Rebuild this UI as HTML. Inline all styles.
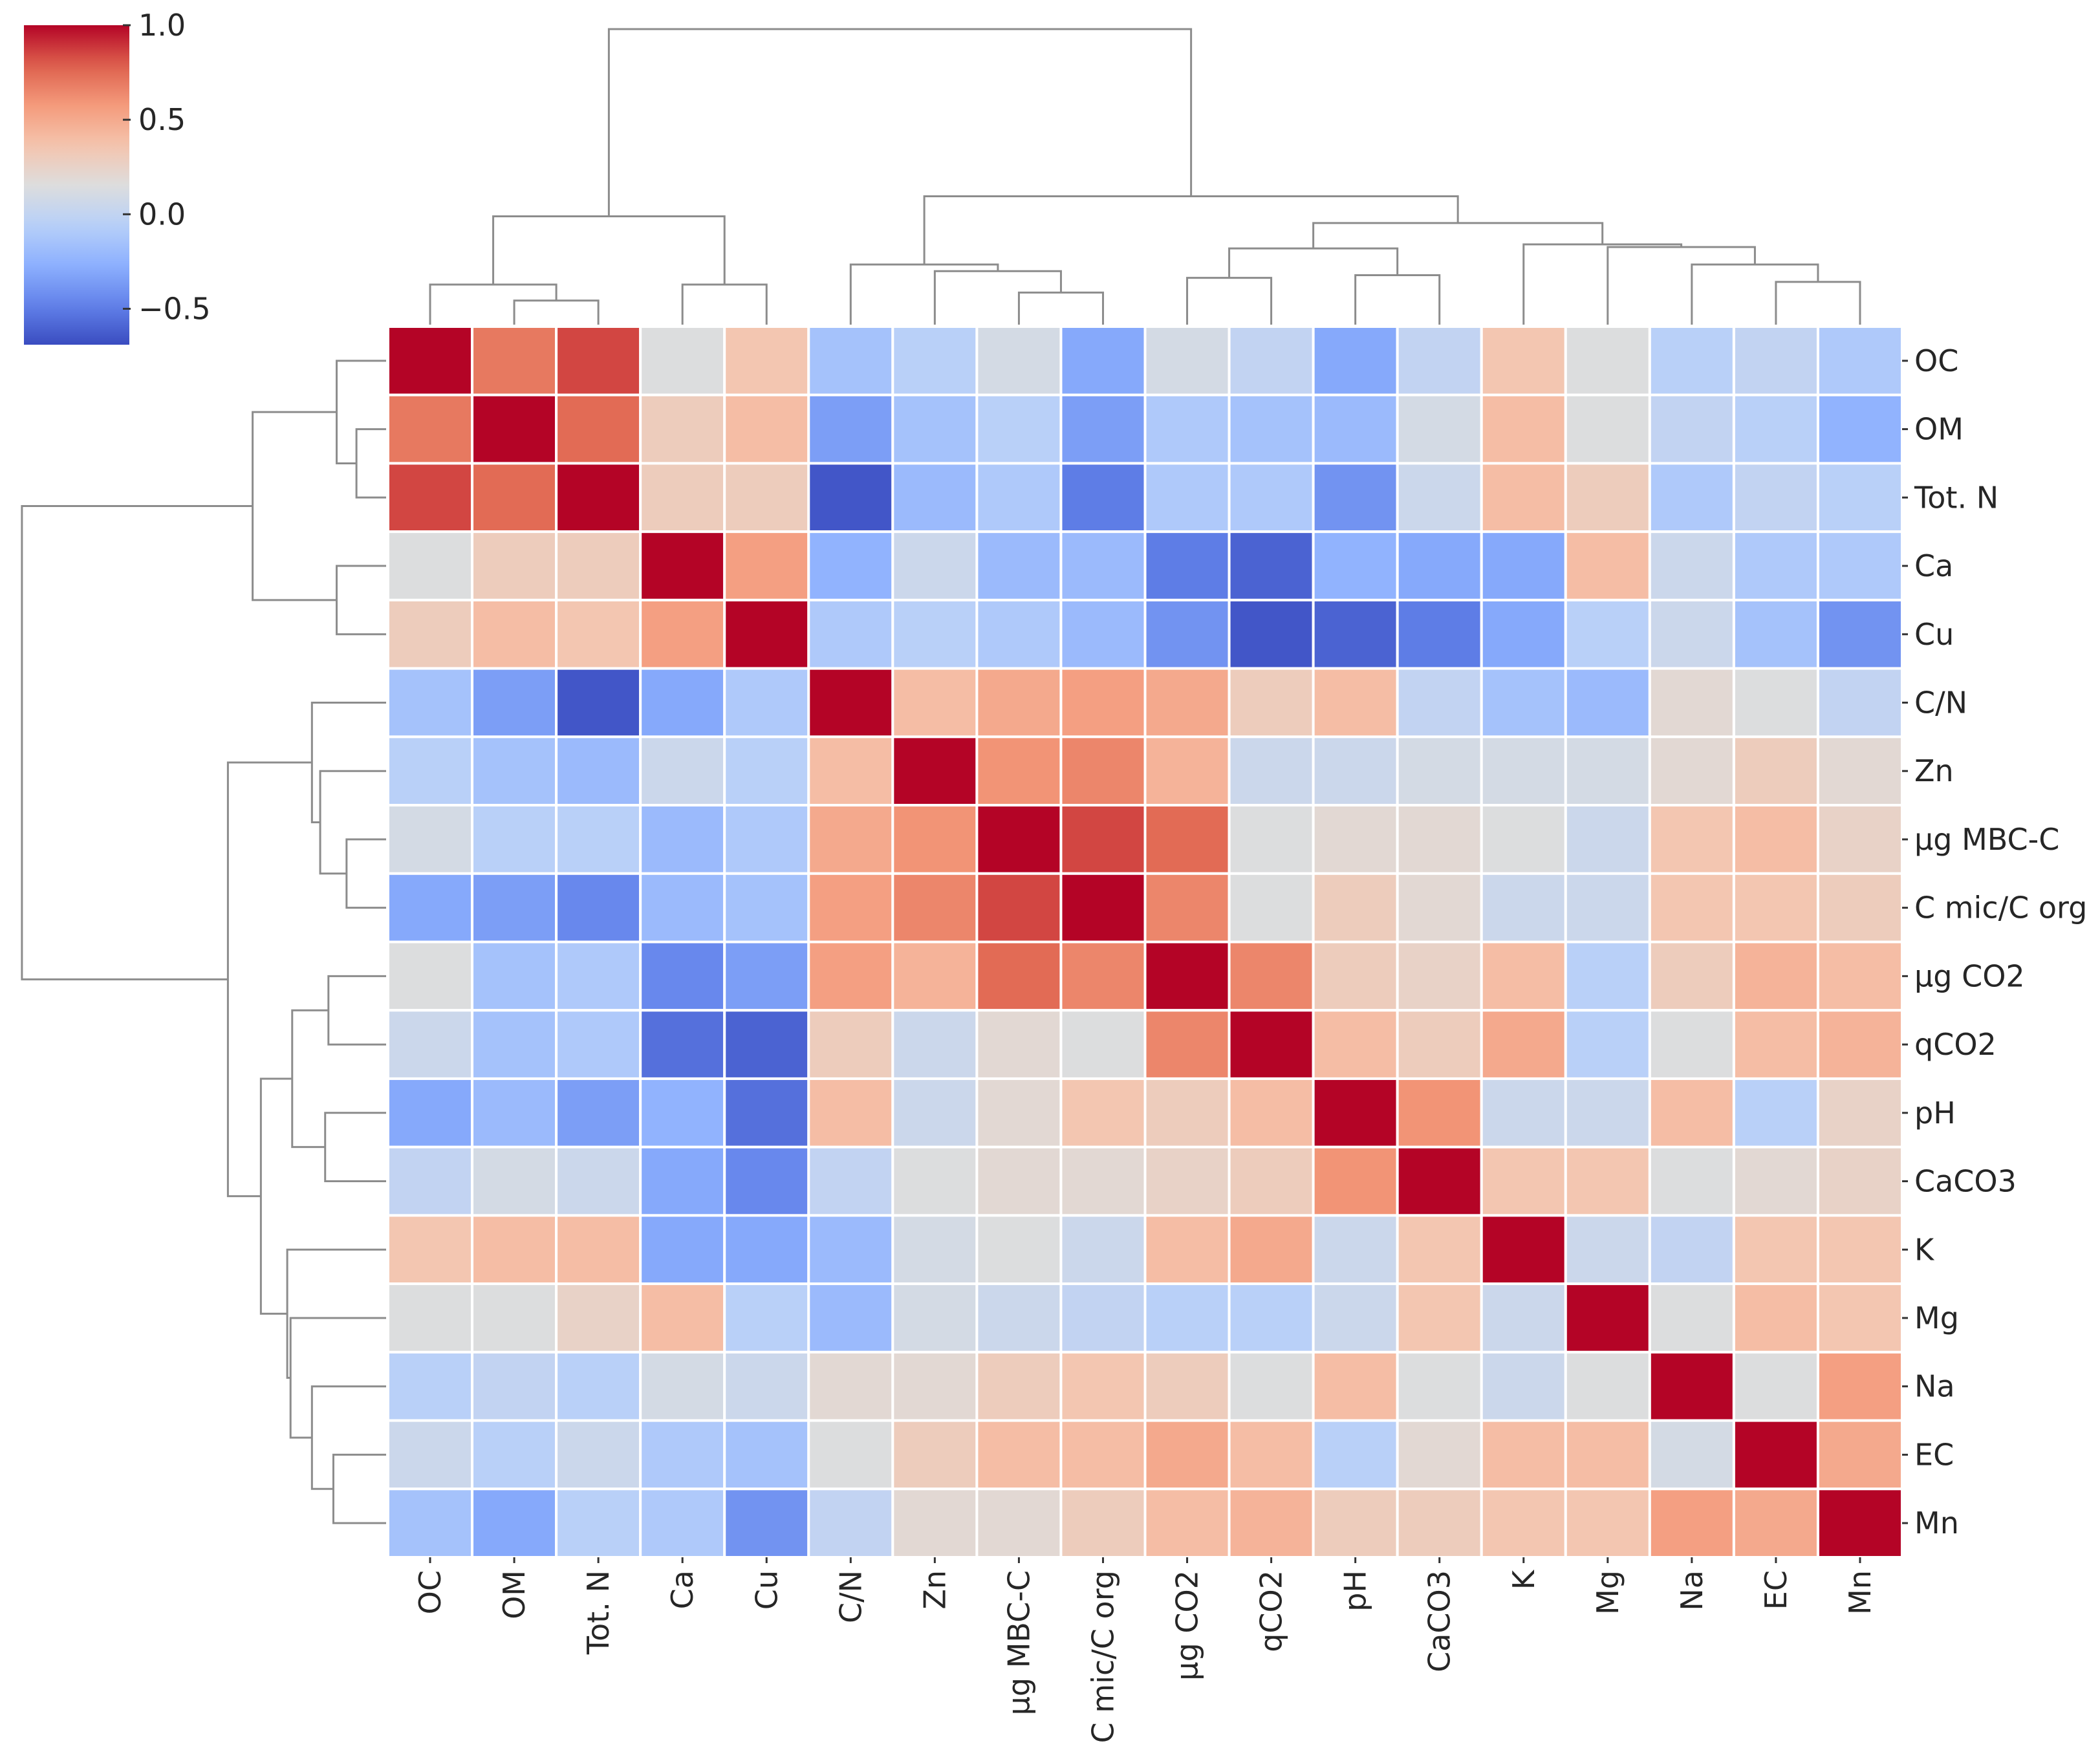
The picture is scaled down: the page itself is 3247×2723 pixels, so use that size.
<!DOCTYPE html>
<html><head><meta charset="utf-8"><style>
html,body{margin:0;padding:0;background:#fff;}
svg{display:block;font-family:"DejaVu Sans","Liberation Sans",sans-serif;}
</style></head><body>
<svg id="chart" width="3247" height="2723" viewBox="0 0 3247 2723" xmlns="http://www.w3.org/2000/svg">
<defs><linearGradient id="cbgrad" x1="0" y1="1" x2="0" y2="0"></linearGradient></defs>
<g id="colorbar"></g>
<g id="topdendro"></g>
<g id="leftdendro"></g>
<g id="heat"></g>
<g id="labels"></g>
</svg>
<script>
const labels = ["OC","OM","Tot. N","Ca","Cu","C/N","Zn","µg MBC-C","C mic/C org","µg CO2","qCO2","pH","CaCO3","K","Mg","Na","EC","Mn"];
const rowOC    = [1,.7,.85,.15,.35,-.15,-.05,.1,-.3,.1,0,-.3,0,.35,.15,-.05,0,-.1];
const rowOM    = [.7,1,.75,.3,.4,-.35,-.15,-.05,-.35,-.1,-.15,-.2,.1,.4,.15,0,-.05,-.25];
const rowTotN  = [.85,.75,1,.3,.3,-.65,-.2,-.1,-.5,-.1,-.1,-.4,.05,.4,.3,-.1,0,-.05];
const rowCa    = [.15,.3,.3,1,.55,-.25,.05,-.2,-.2,-.5,-.6,-.25,-.3,-.3,.4,.05,-.1,-.1];
const rowCu    = [.3,.4,.35,.55,1,-.1,-.05,-.1,-.2,-.4,-.65,-.6,-.5,-.3,-.05,.05,-.15,-.4];
const rowCN    = [-.15,-.35,-.65,-.3,-.1,1,.4,.5,.55,.5,.3,.4,0,-.15,-.2,.2,.15,0];
const rowZn    = [-.05,-.15,-.2,.05,-.05,.4,1,.6,.65,.45,.05,.05,.1,.1,.1,.2,.3,.2];
const rowMBC   = [.1,-.05,-.05,-.2,-.1,.5,.6,1,.85,.75,.15,.2,.2,.15,.05,.35,.4,.25];
const rowCmic  = [-.3,-.35,-.45,-.2,-.15,.55,.65,.85,1,.65,.15,.3,.2,.05,.05,.35,.35,.3];
const rowCO2   = [.15,-.15,-.1,-.45,-.35,.55,.45,.75,.65,1,.65,.3,.25,.4,-.05,.3,.45,.4];
const rowqCO2  = [.05,-.15,-.1,-.55,-.6,.3,.05,.2,.15,.65,1,.4,.3,.5,-.05,.15,.4,.45];
const rowpH    = [-.3,-.2,-.35,-.25,-.55,.4,.05,.2,.35,.3,.4,1,.6,.05,.05,.4,-.05,.25];
const rowCaCO3 = [0,.1,.05,-.3,-.45,0,.15,.2,.2,.25,.3,.6,1,.35,.35,.15,.2,.25];
const rowK     = [.35,.4,.4,-.3,-.3,-.2,.1,.15,.05,.4,.5,.05,.35,1,.05,0,.35,.35];
const rowMg    = [.15,.15,.25,.4,-.05,-.2,.1,.05,0,-.05,-.05,.05,.35,.05,1,.15,.4,.35];
const rowNa    = [-.05,0,-.05,.1,.05,.2,.2,.3,.35,.3,.15,.4,.15,.05,.15,1,.15,.55];
const rowEC    = [.05,-.05,.05,-.1,-.15,.15,.3,.4,.4,.5,.4,-.05,.2,.4,.4,.1,1,.5];
const rowMn    = [-.15,-.3,-.05,-.1,-.4,0,.2,.2,.3,.4,.45,.3,.3,.35,.35,.55,.5,1];
const matrix = [rowOC,rowOM,rowTotN,rowCa,rowCu,rowCN,rowZn,rowMBC,rowCmic,rowCO2,rowqCO2,rowpH,rowCaCO3,rowK,rowMg,rowNa,rowEC,rowMn];
const cbTicks = [1.0, 0.5, 0.0, -0.5];
const cbTickLabels = ["1.0","0.5","0.0","\u22120.5"];
// dendrogram: [left, right, mergeHeight]
const treeA = [[0,[1,2,18],30],[3,4,30],81];
const treeB1 = [5,[6,[7,8,24],40],45];
const treeB2 = [[[9,10,35],[11,12,37],57],[13,[14,[15,[16,17,32],45],58],60],76];
const tree = [treeA,[treeB1,treeB2,96],221];

const NS="http://www.w3.org/2000/svg";
const vmin=-0.69, vmax=1.0;
const HX=600, HY=505, HW=2341, HH=1903, n=labels.length;
const cw=HW/n, ch=HH/n;
const xOf=i=>HX+i*cw, yOf=i=>HY+i*ch;
const cmStops=[[0,[58,76,192]],[0.125,[98,130,234]],[0.25,[141,176,254]],[0.375,[184,208,249]],[0.5,[221,221,221]],[0.625,[245,196,173]],[0.75,[244,154,123]],[0.875,[222,97,77]],[1,[180,4,38]]];
function cmap(t){t=Math.max(0,Math.min(1,t));for(let k=1;k<cmStops.length;k++){if(t<=cmStops[k][0]){const a=cmStops[k-1],b=cmStops[k];const f=(t-a[0])/(b[0]-a[0]);const c=a[1].map((v,j)=>Math.round(v+(b[1][j]-v)*f));return `rgb(${c[0]},${c[1]},${c[2]})`;}}return "rgb(180,4,38)";}
const colorOf=v=>cmap((v-vmin)/(vmax-vmin));
function mk(tag,attrs,parent){const e=document.createElementNS(NS,tag);for(const k in attrs)e.setAttribute(k,attrs[k]);parent.appendChild(e);return e;}

// heatmap
const heatG=document.getElementById('heat');
for(let r=0;r<n;r++)for(let c=0;c<n;c++){
  const rect=mk('rect',{x:xOf(c),y:yOf(r),width:cw,height:ch,fill:colorOf(matrix[r][c]),stroke:'#fff','stroke-width':4},heatG);
  
  
}
// labels
const labG=document.getElementById('labels');
for(let i=0;i<n;i++){
  const cy=yOf(i)+ch/2, cx=xOf(i)+cw/2;
  mk('line',{x1:HX+HW,x2:HX+HW+9,y1:cy,y2:cy,stroke:'#333','stroke-width':3},labG);
  const t=mk('text',{x:2960,y:cy,'font-size':46,fill:'#262626','dominant-baseline':'central'},labG);
  t.textContent=labels[i];
  
  
  mk('line',{x1:cx,x2:cx,y1:HY+HH,y2:HY+HH+9,stroke:'#333','stroke-width':3},labG);
  const b=mk('text',{x:0,y:0,'font-size':46,fill:'#262626','text-anchor':'end','dominant-baseline':'central',transform:`translate(${cx},2428) rotate(-90)`},labG);
  b.textContent=labels[i];
  
  
}
// dendrograms
const topG=document.getElementById('topdendro'), leftG=document.getElementById('leftdendro');
const topScale=2.068, leftScale=2.548;
function draw(node,pos,g,vertical,scale,base){
  if(typeof node==='number') return {p:pos(node),h:0};
  const a=draw(node[0],pos,g,vertical,scale,base), b=draw(node[1],pos,g,vertical,scale,base), h=node[2];
  const f=hh=>base-hh*scale;
  let pts;
  if(vertical){pts=`${a.p},${f(a.h)} ${a.p},${f(h)} ${b.p},${f(h)} ${b.p},${f(b.h)}`;}
  else{pts=`${f(a.h)},${a.p} ${f(h)},${a.p} ${f(h)},${b.p} ${f(b.h)},${b.p}`;}
  const pl=mk('polyline',{points:pts,fill:'none',stroke:'#8c8c8c','stroke-width':3},g);
  
  
  return {p:(a.p+b.p)/2,h:h};
}
draw(tree,i=>xOf(i)+cw/2,topG,true,topScale,HY-3);
draw(tree,i=>yOf(i)+ch/2,leftG,false,leftScale,HX-3);
// colorbar
const grad=document.getElementById('cbgrad');
for(let k=0;k<=20;k++){mk('stop',{offset:k/20,'stop-color':cmap(k/20)},grad);}
const cbG=document.getElementById('colorbar');
const CBX=37,CBW=163,CBT=39,CBB=533;
const cbY=v=>CBB-(v-vmin)/(vmax-vmin)*(CBB-CBT);
const cbr=mk('rect',{x:CBX,y:CBT,width:CBW,height:CBB-CBT,fill:'url(#cbgrad)'},cbG);


cbTicks.forEach((v,i)=>{
  const y=cbY(v);
  mk('line',{x1:CBX+CBW-10,x2:CBX+CBW+2,y1:y,y2:y,stroke:'#333','stroke-width':3},cbG);
  const t=mk('text',{x:CBX+CBW+14,y:y,'font-size':46,fill:'#262626','dominant-baseline':'central'},cbG);
  t.textContent=cbTickLabels[i];
  
  
});
</script>
</body></html>
